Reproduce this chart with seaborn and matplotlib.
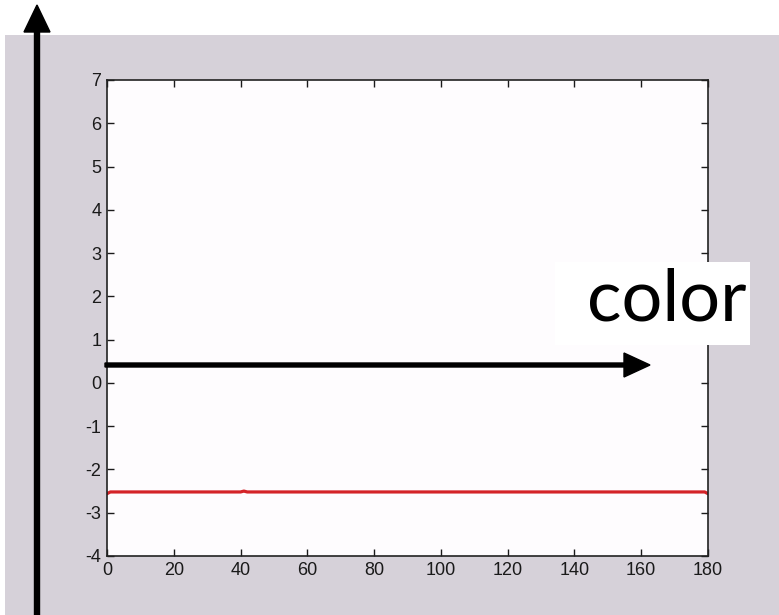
import matplotlib
matplotlib.use("Agg")
import matplotlib.pyplot as plt
import seaborn as sns
import pandas as pd
from matplotlib.patches import Rectangle, FancyArrow
from matplotlib.transforms import IdentityTransform

# values
angle = [0, 1, 40, 41, 42, 179, 180]
value = [-2.56, -2.52, -2.52, -2.50, -2.52, -2.52, -2.56]
x_ticks = [0, 20, 40, 60, 80, 100, 120, 140, 160, 180]
y_ticks = [-4, -3, -2, -1, 0, 1, 2, 3, 4, 5, 6, 7]

df = pd.DataFrame({"angle": angle, "value": value})

sns.set_style("ticks")
plt.rcParams["font.family"] = ["Liberation Sans Narrow", "Liberation Sans", "DejaVu Sans"]
plt.rcParams["axes.unicode_minus"] = False
plt.rcParams["xtick.labelsize"] = 13
plt.rcParams["ytick.labelsize"] = 13

fig = plt.figure(figsize=(7.79, 6.15), dpi=100)
fig.patch.set_facecolor("white")

# gray window panel behind the axes
fig.add_artist(Rectangle((5, 0), 774, 580, transform=IdentityTransform(),
                         facecolor="#d6d1d9", edgecolor="none", zorder=0))

ax = fig.add_axes([107 / 779, 59 / 615, 601 / 779, 476 / 615])
ax.set_facecolor("#fefcfe")
sns.lineplot(data=df, x="angle", y="value", ax=ax, color="#d42328", linewidth=2.3)

ax.set_xlim(0, 180)
ax.set_ylim(-4, 7)
ax.set_xticks(x_ticks)
ax.set_yticks(y_ticks)
ax.set_xlabel("")
ax.set_ylabel("")
ax.tick_params(direction="in", length=5, width=1, top=True, right=True,
               pad=4, colors="#1a1a1a")
for lab in ax.get_xticklabels() + ax.get_yticklabels():
    lab.set_fontsize(13)
for s in ax.spines.values():
    s.set_color("#222222")
    s.set_linewidth(1.2)

# big annotation arrows
fig.add_artist(FancyArrow(37, 0, 0, 610, width=5, head_width=26, head_length=27,
                          length_includes_head=True, color="black",
                          transform=IdentityTransform(), zorder=5))
fig.add_artist(FancyArrow(105, 250, 545, 0, width=4, head_width=24, head_length=26,
                          length_includes_head=True, color="black",
                          transform=IdentityTransform(), zorder=5))

# label box
fig.add_artist(Rectangle((555, 270), 195, 83, transform=IdentityTransform(),
                         facecolor="white", edgecolor="none", zorder=6))
fig.text(746 / 779, 1 - 300 / 615, "color", ha="right", va="center",
         fontsize=52, family=["Lato", "DejaVu Sans"], color="black", zorder=7)

fig.savefig("out.png", dpi=100)
